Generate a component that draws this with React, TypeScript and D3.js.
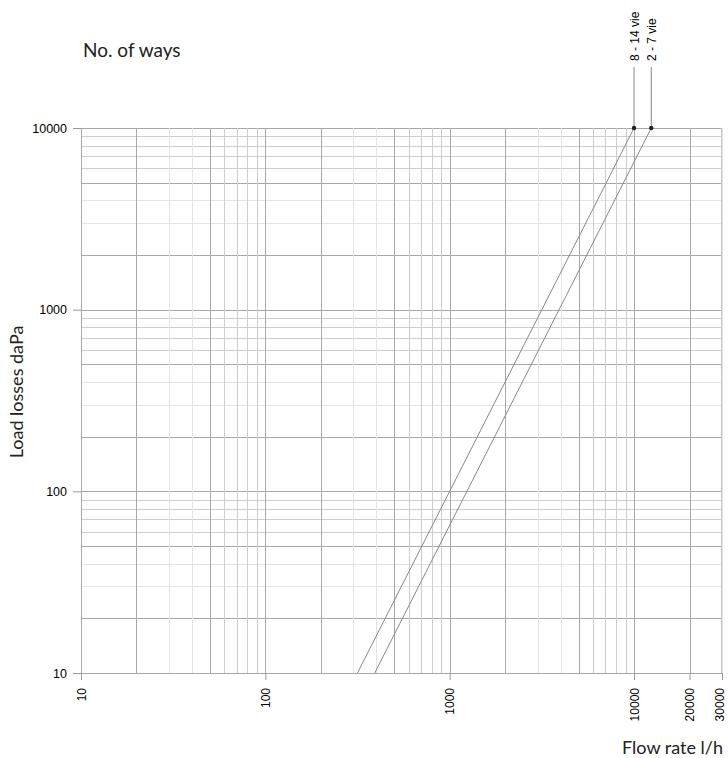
import React, { useEffect, useRef } from 'react';
import * as d3 from 'd3';

// curves (flow l/h vs load loss daPa)
const series = ['8 - 14 vie', '2 - 7 vie'];
const flow814 = [316, 10000];
const loss814 = [10, 10000];
const flow27 = [392, 12400];
const loss27 = [10, 10000];

const xTickLabels = [10, 100, 1000, 10000, 20000, 30000];
const yTickLabels = [10, 100, 1000, 10000];

export default function App() {
  const ref = useRef<SVGSVGElement>(null);
  const width = 728,
    height = 758;
  const margin = { top: 128, right: 6, bottom: 85, left: 81 };

  useEffect(() => {
    const svg = d3.select(ref.current);
    svg.selectAll('*').remove();

    const x = d3
      .scaleLog()
      .domain([10, 30000])
      .range([margin.left, width - margin.right]);
    const y = d3
      .scaleLog()
      .domain([10, 10000])
      .range([height - margin.bottom, margin.top]);

    const shade = (v: number) => {
      const m = Math.round(v / Math.pow(10, Math.floor(Math.log10(v) + 1e-9)));
      if (m === 1 || m === 2 || m === 5) return '#a8a8a8';
      if (m === 3 || m === 4) return '#e4e4e4';
      return '#cdcdcd';
    };

    const grid = svg.append('g');
    const x0 = x.range()[0],
      x1 = x.range()[1];
    const y0 = y.range()[0],
      y1 = y.range()[1];

    // horizontal grid
    grid
      .selectAll('line.h')
      .data(y.ticks())
      .join('line')
      .attr('x1', x0)
      .attr('x2', x1)
      .attr('y1', (d) => Math.round(y(d)) + 0.5)
      .attr('y2', (d) => Math.round(y(d)) + 0.5)
      .attr('stroke', (d) => shade(d))
      .attr('stroke-width', 1);

    // vertical grid
    grid
      .selectAll('line.v')
      .data(x.ticks().filter((d) => d <= 30000))
      .join('line')
      .attr('x1', (d) => Math.round(x(d)) + 0.5)
      .attr('x2', (d) => Math.round(x(d)) + 0.5)
      .attr('y1', y1)
      .attr('y2', y0)
      .attr('stroke', (d) => shade(d))
      .attr('stroke-width', 1);

    // right border
    grid
      .append('line')
      .attr('x1', x1 - 0.5)
      .attr('x2', x1 - 0.5)
      .attr('y1', y1)
      .attr('y2', y0)
      .attr('stroke', '#c8c8c8');

    // y axis
    const yAxis = svg
      .append('g')
      .attr('transform', `translate(${x0},0)`)
      .call(d3.axisLeft(y).tickValues(yTickLabels).tickFormat(d3.format('d')).tickSize(8).tickPadding(6));
    yAxis.select('.domain').remove();
    yAxis.selectAll('.tick line').attr('stroke', '#999');
    yAxis
      .selectAll('.tick text')
      .attr('fill', '#000')
      .attr('font-family', 'Liberation Sans, Arial, sans-serif')
      .attr('font-size', 12.5);

    // x axis
    const xAxis = svg
      .append('g')
      .attr('transform', `translate(0,${y0})`)
      .call(d3.axisBottom(x).tickValues(xTickLabels).tickFormat(d3.format('d')).tickSize(7).tickPadding(6));
    xAxis.select('.domain').remove();
    xAxis.selectAll('.tick line').attr('stroke', '#999');
    xAxis
      .selectAll('.tick text')
      .attr('fill', '#000')
      .attr('font-family', 'Liberation Sans, Arial, sans-serif')
      .attr('font-size', 12)
      .attr('transform', 'rotate(-90)')
      .attr('text-anchor', 'end')
      .attr('dy', (d) => (d === 30000 ? '0.1em' : '0.35em'))
      .attr('x', -15)
      .attr('y', 0);

    // curves
    const line = d3
      .line<[number, number]>()
      .x((d) => x(d[0]))
      .y((d) => y(d[1]));
    const curves = [
      d3.zip(flow814, loss814) as [number, number][],
      d3.zip(flow27, loss27) as [number, number][],
    ];
    curves.forEach((pts, i) => {
      svg
        .append('path')
        .datum(pts)
        .attr('d', line)
        .attr('fill', 'none')
        .attr('stroke', '#888')
        .attr('stroke-width', 1);
      const top = pts[pts.length - 1];
      const px = x(top[0]),
        py = y(top[1]);
      svg
        .append('line')
        .attr('x1', px)
        .attr('x2', px)
        .attr('y1', py)
        .attr('y2', 67)
        .attr('stroke', '#888')
        .attr('stroke-width', 1);
      svg.append('circle').attr('cx', px).attr('cy', py).attr('r', 2.2).attr('fill', '#222');
      svg
        .append('text')
        .attr('transform', `translate(${px + 4.5},61) rotate(-90)`)
        .attr('text-anchor', 'start')
        .attr('font-family', 'Liberation Sans, Arial, sans-serif')
        .attr('font-size', 12)
        .text(series[i]);
    });

    // titles
    svg
      .append('text')
      .attr('x', 83)
      .attr('y', 57)
      .attr('font-family', 'Lato, sans-serif')
      .attr('font-size', 19)
      .attr('fill', '#222')
      .text('No. of ways');
    svg
      .append('text')
      .attr('transform', `translate(23,392) rotate(-90)`)
      .attr('text-anchor', 'middle')
      .attr('font-family', 'Lato, sans-serif')
      .attr('font-size', 18)
      .attr('fill', '#222')
      .text('Load losses daPa');
    svg
      .append('text')
      .attr('x', 723)
      .attr('y', 754)
      .attr('text-anchor', 'end')
      .attr('font-family', 'Lato, sans-serif')
      .attr('font-size', 18)
      .attr('fill', '#222')
      .text('Flow rate l/h');
  }, []);

  return (
    <svg
      ref={ref}
      width={width}
      height={height}
      viewBox={`0 0 ${width} ${height}`}
      style={{ position: 'absolute', left: 0, top: 0, background: '#fff' }}
    />
  );
}
